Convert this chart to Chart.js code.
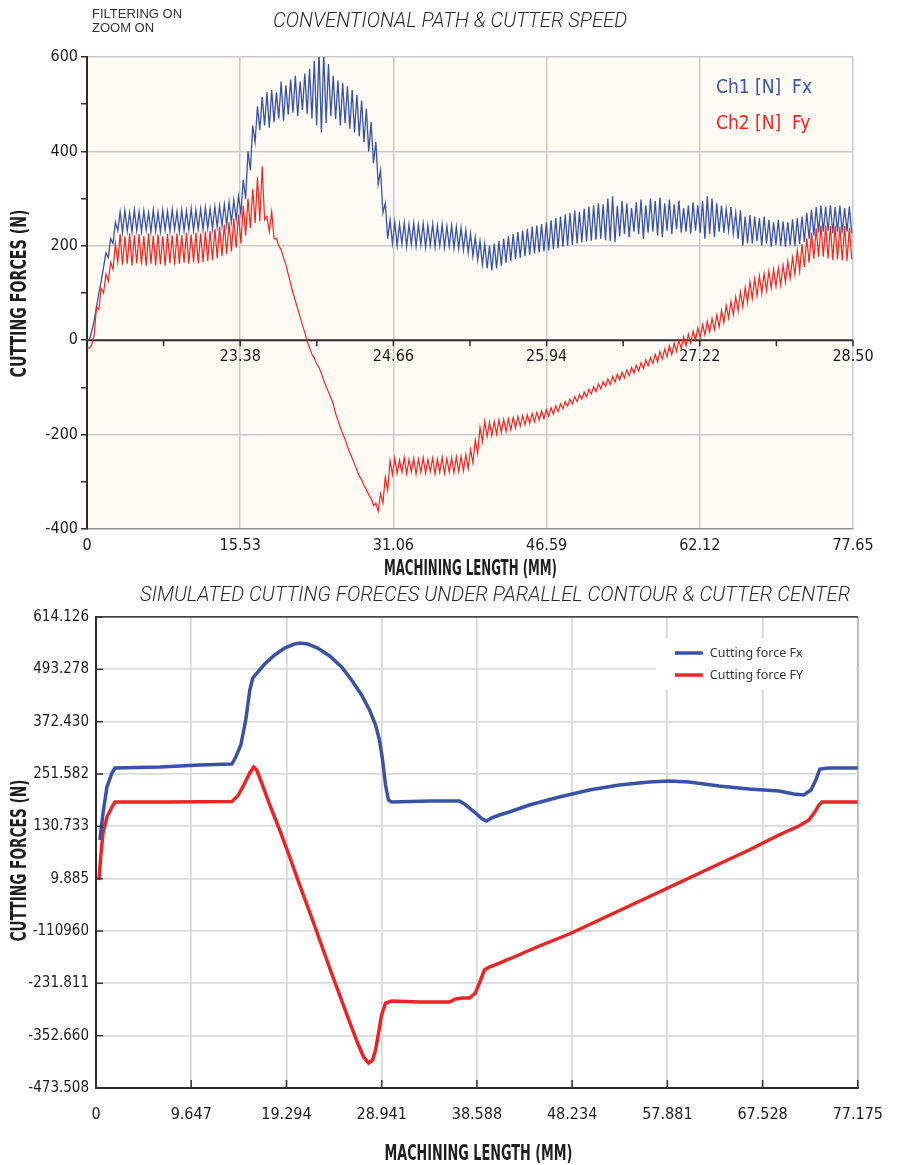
<!DOCTYPE html>
<html>
<head>
<meta charset="utf-8">
<script src="https://cdn.jsdelivr.net/npm/chart.js@4.4.1/dist/chart.umd.min.js"></script>
<style>
  html, body { margin: 0; padding: 0; background: #fff; }
  #page { position: relative; width: 900px; height: 1165px; overflow: hidden; }
  canvas { position: absolute; left: 0; }
  .note { position: absolute; left: 92px; top: 7px; font: 13px/14px 'Liberation Sans', Arial, sans-serif; color: #333; }
  .txt { position: absolute; white-space: nowrap; transform-origin: center center; line-height: 1; }
  .heading { font-family: Roboto, 'Liberation Sans', sans-serif; font-style: italic; font-weight: 300; font-size: 21px; color: #2a2a2a; }
  .axis-title { font-family: 'Liberation Sans Narrow', 'DejaVu Sans Condensed', 'Liberation Sans', sans-serif; font-weight: bold; font-size: 21px; color: #1e1e1e; }
</style>
</head>
<body>
<div id="page">
  <canvas id="measured" width="900" height="580" style="top:0"></canvas>
  <canvas id="simulated" width="900" height="585" style="top:580px"></canvas>
  <div class="note">FILTERING ON<br>ZOOM ON</div>
  <div class="txt heading" id="head1">CONVENTIONAL PATH &amp; CUTTER SPEED</div>
  <div class="txt heading" id="head2">SIMULATED CUTTING FORECES UNDER PARALLEL CONTOUR &amp; CUTTER CENTER</div>
  <div class="txt axis-title" id="xTitle1">MACHINING LENGTH (MM)</div>
  <div class="txt axis-title" id="yTitle1">CUTTING FORCES (N)</div>
  <div class="txt axis-title" id="xTitle2">MACHINING LENGTH (MM)</div>
  <div class="txt axis-title" id="yTitle2">CUTTING FORCES (N)</div>
</div>
<script>
const NARROW = "'Liberation Sans Narrow','DejaVu Sans Condensed','Roboto Condensed','Liberation Sans',sans-serif";

// ---------- Measured forces (upper panel) ----------
// Each cutting cycle is stored as one peak and one trough value (N).
const SAMPLE_STEP = 0.24; // mm between a peak and the following trough
const fxPeak = [
  0, 20, 70, 125, 185, 215, 250, 272, 275, 270,
  276, 272, 274, 270, 276, 271, 275, 273, 277, 272,
  276, 274, 279, 276, 278, 281, 279, 283, 285, 288,
  292, 297, 305, 340, 400, 455, 495, 515, 525, 530,
  525, 548, 540, 552, 560, 548, 565, 575, 592, 610,
  608, 585, 560, 550, 545, 538, 530, 520, 508, 490,
  462, 420, 360, 290, 255, 250, 246, 249, 245, 248,
  244, 247, 243, 246, 242, 245, 241, 243, 240, 238,
  233, 226, 218, 210, 204, 200, 205, 210, 215, 220,
  225, 229, 232, 236, 240, 243, 246, 250, 254, 258,
  262, 266, 270, 275, 272, 279, 283, 286, 290, 288,
  300, 305, 285, 295, 290, 280, 292, 298, 286, 300,
  295, 302, 290, 298, 288, 296, 280, 285, 292, 286,
  295, 305, 300, 290, 285, 278, 282, 270, 275, 262,
  265, 262, 258, 262, 255, 250, 255, 252, 250, 256,
  258, 262, 270, 276, 282, 285, 283, 286, 282, 285,
  280, 283
];
const fxTrough = [
  1, 40, 100, 155, 175, 205, 232, 228, 231, 229,
  232, 230, 233, 229, 231, 230, 233, 231, 234, 230,
  232, 234, 232, 235, 234, 237, 236, 240, 242, 244,
  250, 256, 268, 300, 360, 420, 445, 455, 450, 462,
  470, 465, 478, 482, 475, 488, 480, 470, 455, 440,
  460, 475, 468, 455, 460, 448, 440, 432, 420, 400,
  375, 330, 270, 215, 205, 200, 204, 198, 203, 199,
  202, 197, 201, 198, 200, 196, 199, 195, 194, 192,
  186, 178, 170, 160, 152, 148, 152, 158, 164, 168,
  172, 175, 178, 181, 184, 186, 188, 190, 193, 195,
  198, 200, 202, 205, 207, 209, 211, 213, 215, 212,
  210, 208, 220, 225, 218, 230, 225, 215, 228, 230,
  222, 218, 232, 225, 235, 228, 230, 226, 232, 228,
  215, 225, 218, 230, 228, 232, 226, 215, 200, 205,
  205, 210, 200, 205, 198, 202, 200, 198, 201, 199,
  204, 208, 215, 222, 228, 230, 232, 227, 230, 228,
  230, 226
];
const fyPeak = [
  -17, -10, 70, 110, 140, 165, 205, 225, 220, 226,
  222, 225, 220, 226, 221, 224, 220, 225, 222, 226,
  223, 227, 224, 228, 226, 230, 232, 236, 240, 245,
  250, 258, 266, 285, 300, 320, 345, 368, 262, 272,
  215, 192, 160, 120, 84, 50, 16, -16, -38, -58,
  -85, -110, -135, -170, -198, -225, -250, -275, -296, -316,
  -335, -345, -325, -290, -255, -250, -254, -249, -253, -250,
  -252, -249, -253, -250, -252, -248, -251, -249, -247, -246,
  -242, -232, -212, -185, -172, -174, -172, -169, -168, -166,
  -164, -162, -160, -158, -155, -153, -150, -147, -143, -139,
  -135, -130, -125, -120, -115, -110, -104, -99, -93, -88,
  -82, -77, -72, -68, -63, -58, -53, -48, -42, -37,
  -30, -24, -19, -12, -6, 0, 7, 13, 19, 26,
  33, 40, 46, 53, 63, 73, 82, 92, 102, 112,
  124, 130, 136, 141, 146, 150, 153, 159, 167, 175,
  190, 203, 216, 228, 237, 243, 243, 242, 243, 241,
  242, 238
];
const fyTrough = [
  -17, 10, 65, 100, 125, 150, 165, 160, 162, 158,
  163, 160, 158, 162, 159, 161, 158, 163, 160, 162,
  164, 162, 165, 163, 166, 168, 170, 174, 178, 183,
  188, 196, 205, 222, 238, 248, 252, 255, 230, 215,
  200, 175, 140, 100, 66, 32, -2, -30, -50, -70,
  -98, -122, -155, -185, -210, -238, -262, -288, -308, -328,
  -350, -362, -345, -318, -285, -282, -280, -283, -279, -284,
  -280, -282, -278, -283, -280, -282, -279, -281, -278, -277,
  -272, -260, -240, -215, -204, -202, -199, -196, -193, -190,
  -186, -182, -179, -176, -173, -169, -166, -161, -157, -151,
  -145, -140, -135, -130, -125, -120, -114, -109, -103, -98,
  -94, -89, -84, -80, -75, -70, -65, -60, -54, -49,
  -46, -40, -35, -30, -24, -18, -12, -6, 0, 5,
  11, 17, 22, 28, 37, 47, 54, 62, 70, 80,
  88, 94, 100, 105, 110, 114, 117, 123, 131, 139,
  146, 155, 164, 172, 177, 177, 173, 170, 171, 169,
  168, 172
];
const measuredForceTicks = [-400, -200, 0, 200, 400, 600];
const measuredForceLabels = ['-400', '-200', '0', '200', '400', '600'];
const measuredLengthTicks = [0, 15.53, 31.06, 46.59, 62.12, 77.65];
const measuredLengthLabels = ['0', '15.53', '31.06', '46.59', '62.12', '77.65'];
const cutterPositionLabels = ['', '23.38', '24.66', '25.94', '27.22', '28.50'];

// ---------- Simulated forces (lower panel) ----------
const simFxLength = [0.40, 0.71, 1.11, 1.62, 1.92, 6.47, 10.52, 13.76, 14.16, 14.67, 15.17, 15.58, 15.88, 16.39, 17.09, 18.10, 19.12, 20.13, 20.63, 21.44, 22.45, 23.67, 24.88, 25.89, 26.90, 27.71, 28.32, 28.72, 29.03, 29.33, 29.63, 29.94, 33.78, 36.82, 37.32, 38.33, 39.14, 39.55, 40.05, 40.86, 41.87, 43.90, 46.93, 49.97, 53.00, 56.03, 58.06, 60.08, 63.11, 66.15, 69.18, 70.70, 71.71, 72.42, 72.92, 73.33, 74.24, 77.175];
const simFxForce  = [99.2, 161.5, 221.6, 253.9, 265.4, 267.7, 272.4, 274.7, 290.8, 318.5, 376.3, 445.6, 473.3, 487.1, 505.6, 526.4, 542.5, 551.8, 554.1, 551.8, 542.5, 524.1, 498.7, 468.6, 434.0, 399.4, 364.7, 330.1, 283.9, 226.2, 191.5, 186.9, 189.2, 189.2, 182.3, 163.8, 147.7, 143.0, 150.0, 156.9, 163.8, 180.0, 198.5, 214.6, 226.2, 233.1, 235.4, 233.1, 223.9, 217.0, 212.3, 205.4, 203.1, 214.6, 237.7, 263.1, 265.4, 265.4];
const simFyLength = [0.30, 0.51, 0.71, 1.11, 1.62, 1.92, 7.18, 13.76, 14.36, 14.97, 15.58, 15.98, 16.28, 16.79, 17.60, 18.61, 19.62, 20.63, 21.64, 22.66, 23.67, 24.68, 25.69, 26.50, 27.11, 27.61, 28.02, 28.32, 28.62, 28.93, 29.33, 29.94, 32.77, 35.81, 36.41, 37.12, 37.83, 38.43, 38.84, 39.35, 39.85, 40.86, 41.87, 44.91, 47.94, 50.98, 54.01, 57.05, 60.08, 63.11, 66.15, 69.18, 71.20, 72.22, 72.82, 73.23, 73.53, 77.175];
const simFyForce  = [6.8, 69.1, 115.3, 152.3, 175.4, 186.9, 186.9, 188.0, 200.8, 226.2, 253.9, 267.7, 260.8, 230.8, 180.0, 122.2, 59.9, -4.8, -67.1, -131.8, -196.4, -258.8, -321.1, -369.6, -401.9, -415.8, -408.9, -385.8, -346.5, -305.0, -277.3, -272.6, -274.9, -274.9, -268.0, -265.7, -265.7, -254.2, -231.1, -201.0, -194.1, -184.9, -175.6, -145.6, -117.9, -85.6, -53.3, -20.9, 11.4, 43.7, 76.1, 110.7, 131.5, 145.3, 163.8, 180.0, 186.9, 186.9];
const simForceTicks  = [-473.508, -352.660, -231.811, -110.960, 9.885, 130.733, 251.582, 372.430, 493.278, 614.126];
const simForceLabels = ['-473.508', '-352.660', '-231.811', '-110960', '9.885', '130.733', '251.582', '372.430', '493.278', '614.126'];
const simLengthTicks  = [0, 9.647, 19.294, 28.941, 38.588, 48.234, 57.881, 67.528, 77.175];
const simLengthLabels = ['0', '9.647', '19.294', '28.941', '38.588', '48.234', '57.881', '67.528', '77.175'];

// ---------- helpers ----------
function cycleSeries(peaks, troughs) {
  const pts = [];
  peaks.forEach((p, i) => {
    pts.push({ x: 2 * i * SAMPLE_STEP, y: p });
    pts.push({ x: (2 * i + 1) * SAMPLE_STEP, y: troughs[i] });
  });
  return pts;
}
function pairSeries(xs, ys) { return xs.map((x, i) => ({ x, y: ys[i] })); }
function fixedTicks(values) { return s => { s.ticks = values.map(v => ({ value: v })); }; }

Chart.defaults.font.family = NARROW;
Chart.defaults.font.size = 16;
Chart.defaults.color = '#1a1a1a';

// cream plot background
const plotBackground = {
  id: 'plotBackground',
  beforeDraw(chart, args, opts) {
    const { ctx, chartArea: a } = chart;
    ctx.save();
    ctx.fillStyle = opts.color;
    ctx.fillRect(a.left, a.top, a.right - a.left, a.bottom - a.top);
    ctx.restore();
  }
};

// zero line of the upper panel carrying the cutter position scale
const zeroAxis = {
  id: 'zeroAxis',
  beforeDatasetsDraw(chart) {
    const { ctx, chartArea: a, scales: { x, y } } = chart;
    const y0 = y.getPixelForValue(0);
    ctx.save();
    ctx.strokeStyle = '#2b2b2b';
    ctx.lineWidth = 2;
    ctx.beginPath(); ctx.moveTo(a.left, y0); ctx.lineTo(a.right, y0); ctx.stroke();
    ctx.lineWidth = 1.5;
    const marks = [];
    measuredLengthTicks.forEach((v, i) => {
      marks.push(v);
      if (i < measuredLengthTicks.length - 1) marks.push((v + measuredLengthTicks[i + 1]) / 2);
    });
    marks.forEach(v => {
      const px = x.getPixelForValue(v);
      ctx.beginPath(); ctx.moveTo(px, y0); ctx.lineTo(px, y0 + 6); ctx.stroke();
    });
    ctx.fillStyle = '#1a1a1a';
    ctx.font = '16px ' + NARROW;
    ctx.textAlign = 'center';
    ctx.textBaseline = 'middle';
    cutterPositionLabels.forEach((t, i) => {
      if (t) ctx.fillText(t, x.getPixelForValue(measuredLengthTicks[i]), y0 + 17);
    });
    ctx.restore();
  }
};

// channel names written in the channel colour
const channelLegend = {
  id: 'channelLegend',
  afterDraw(chart) {
    const { ctx, chartArea: a } = chart;
    ctx.save();
    ctx.font = '19px ' + NARROW;
    ctx.textAlign = 'left';
    ctx.textBaseline = 'middle';
    chart.data.datasets.forEach((ds, i) => {
      ctx.fillStyle = ds.borderColor;
      ctx.fillText(ds.label, a.right - 137, a.top + 31 + i * 36);
    });
    ctx.restore();
  }
};

// short inward tick marks on the lower panel axes
const inwardTicks = {
  id: 'inwardTicks',
  afterDatasetsDraw(chart) {
    const { ctx, chartArea: a, scales: { x, y } } = chart;
    ctx.save();
    ctx.strokeStyle = '#333';
    ctx.lineWidth = 1.5;
    x.ticks.forEach(t => {
      const px = x.getPixelForValue(t.value);
      ctx.beginPath(); ctx.moveTo(px, a.bottom); ctx.lineTo(px, a.bottom - 8); ctx.stroke();
    });
    y.ticks.forEach(t => {
      const py = y.getPixelForValue(t.value);
      ctx.beginPath(); ctx.moveTo(a.left, py); ctx.lineTo(a.left + 7, py); ctx.stroke();
    });
    ctx.restore();
  }
};

// boxed legend with line samples
const boxedLegend = {
  id: 'boxedLegend',
  afterDatasetsDraw(chart) {
    const { ctx, chartArea: a } = chart;
    ctx.save();
    ctx.fillStyle = '#ffffff';
    ctx.fillRect(a.right - 202, a.top + 21, 200, 52);
    ctx.font = "12.5px 'Noto Sans','Open Sans',sans-serif";
    ctx.textAlign = 'left';
    ctx.textBaseline = 'middle';
    chart.data.datasets.forEach((ds, i) => {
      const yy = a.top + 36 + i * 22;
      ctx.strokeStyle = ds.borderColor;
      ctx.lineWidth = 3.5;
      ctx.beginPath(); ctx.moveTo(a.right - 183, yy); ctx.lineTo(a.right - 155, yy); ctx.stroke();
      ctx.fillStyle = '#333';
      ctx.fillText(ds.label, a.right - 148, yy + 0.5);
    });
    ctx.restore();
  }
};

// ---------- upper panel ----------
new Chart(document.getElementById('measured'), {
  type: 'line',
  data: {
    datasets: [
      { label: 'Ch1 [N]  Fx', data: cycleSeries(fxPeak, fxTrough), borderColor: '#3853a6', borderWidth: 1.3, pointRadius: 0, tension: 0, order: 1 },
      { label: 'Ch2 [N]  Fy', data: cycleSeries(fyPeak, fyTrough), borderColor: '#f3241c', borderWidth: 1.2, pointRadius: 0, tension: 0, order: 0 }
    ]
  },
  options: {
    responsive: false,
    animation: false,
    events: [],
    layout: { padding: { top: 57, right: 47, left: 0, bottom: 0 } },
    plugins: { legend: { display: false }, tooltip: { enabled: false }, plotBackground: { color: '#fdfaf3' } },
    scales: {
      x: {
        type: 'linear', min: 0, max: 77.65,
        afterBuildTicks: fixedTicks(measuredLengthTicks),
        afterFit: s => { s.height = 51; },
        ticks: { callback: (v, i) => measuredLengthLabels[i], padding: 7, maxRotation: 0, autoSkip: false },
        grid: { color: '#c9c9c9', lineWidth: 1.5, drawTicks: false },
        border: { color: '#8f8f8f', width: 1.5 }
      },
      y: {
        type: 'linear', min: -400, max: 600,
        afterFit: s => { s.width = 87; },
        ticks: {
          stepSize: 100, padding: 3,
          callback: v => { const i = measuredForceTicks.indexOf(v); return i >= 0 ? measuredForceLabels[i] : ''; }
        },
        grid: {
          color: c => (c.tick && measuredForceTicks.includes(c.tick.value) && c.tick.value !== 0 && c.tick.value !== -400) ? '#c9c9c9' : 'rgba(0,0,0,0)',
          lineWidth: 1.5, tickColor: '#2b2b2b', tickLength: 6, tickWidth: 1.5
        },
        border: { color: '#2b2b2b', width: 2 }
      }
    }
  },
  plugins: [plotBackground, zeroAxis, channelLegend]
});

// ---------- lower panel ----------
new Chart(document.getElementById('simulated'), {
  type: 'line',
  data: {
    datasets: [
      { label: 'Cutting force Fx', data: pairSeries(simFxLength, simFxForce), borderColor: '#3852a5', borderWidth: 3.5, pointRadius: 0, tension: 0 },
      { label: 'Cutting force FY', data: pairSeries(simFyLength, simFyForce), borderColor: '#ee2424', borderWidth: 3.5, pointRadius: 0, tension: 0 }
    ]
  },
  options: {
    responsive: false,
    animation: false,
    events: [],
    layout: { padding: { top: 37, right: 41, left: 0, bottom: 0 } },
    plugins: { legend: { display: false }, tooltip: { enabled: false }, plotBackground: { color: '#ffffff' } },
    scales: {
      x: {
        type: 'linear', min: 0, max: 77.175,
        afterBuildTicks: fixedTicks(simLengthTicks),
        afterFit: s => { s.height = 77; },
        ticks: { callback: (v, i) => simLengthLabels[i], padding: 17, maxRotation: 0, autoSkip: false },
        grid: { color: c => c.index === simLengthTicks.length - 1 ? '#b8b8b8' : '#dadada', lineWidth: 1.8, drawTicks: false },
        border: { color: '#2b2b2b', width: 2 }
      },
      y: {
        type: 'linear', min: -473.508, max: 614.126,
        afterBuildTicks: fixedTicks(simForceTicks),
        afterFit: s => { s.width = 96; },
        ticks: { callback: (v, i) => simForceLabels[i], padding: 7, font: { size: 15 } },
        grid: { color: c => c.index === simForceTicks.length - 1 ? '#444' : '#dadada', lineWidth: 1.8, drawTicks: false },
        border: { color: '#2b2b2b', width: 2 }
      }
    }
  },
  plugins: [plotBackground, inwardTicks, boxedLegend]
});

// ---------- headings and axis titles ----------
function place(id, cx, cy, len, vertical) {
  const el = document.getElementById(id);
  const w = el.offsetWidth, h = el.offsetHeight;
  el.style.left = (cx - w / 2) + 'px';
  el.style.top = (cy - h / 2) + 'px';
  el.style.transform = (vertical ? 'rotate(-90deg) ' : '') + 'scaleX(' + (len / w) + ')';
}
function layoutText() {
  place('head1', 450, 20, 354, false);
  place('head2', 495, 594, 710, false);
  place('xTitle1', 470, 568, 173, false);
  place('yTitle1', 20, 293, 168, true);
  place('xTitle2', 478, 1153, 188, false);
  place('yTitle2', 20, 860, 162, true);
}
layoutText();
</script>
</body>
</html>
